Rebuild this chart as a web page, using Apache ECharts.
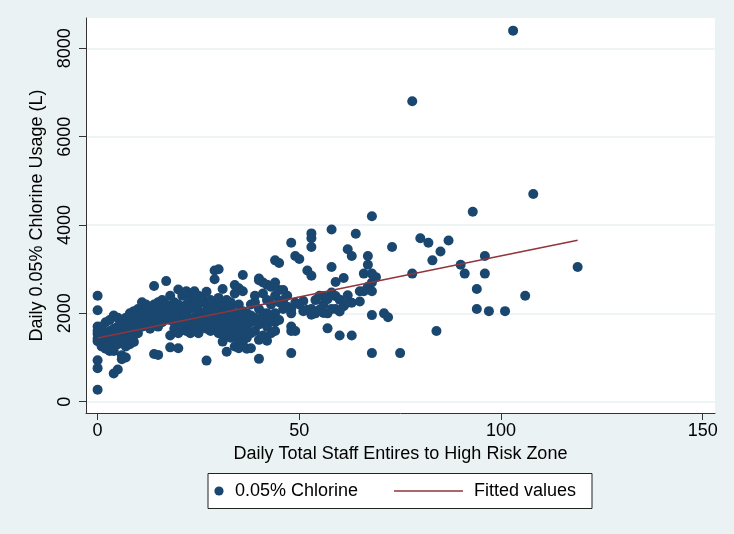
<!DOCTYPE html>
<html>
<head>
<meta charset="utf-8">
<script src="https://cdn.jsdelivr.net/npm/echarts@6/dist/echarts.min.js"></script>
<style>
html,body{margin:0;padding:0;background:#EAF2F3;}
#chart{width:734px;height:534px;}
</style>
</head>
<body>
<div id="chart"></div>
<script>
// Scatter points: [daily staff entries, daily 0.05% chlorine usage (L)]
const chlorinePoints = [
  [0,2400],[0,2070],[0,1700],[0,1540],[0,1430],[0,1370],[0,940],[0,760],[0,270],[0,1600],
  [1,1500],[1,1350],[1,1700],[1,1250],
  [2,1550],[2,1300],[2,1200],[2,1800],[2,1450],
  [3,1850],[3,1400],[3,1150],[3,1600],[3,1300],
  [4,1950],[4,1650],[4,1250],[4,1150],[4,640],[4,1500],
  [5,1700],[5,1900],[5,1400],[5,730],[5,1550],[5,1300],
  [6,1850],[6,1600],[6,1050],[6,960],[6,1350],[6,1750],
  [7,1750],[7,1500],[7,1000],[7,1250],[7,1900],[7,1400],
  [8,2000],[8,1600],[8,1300],[8,1450],[8,1800],
  [9,2050],[9,1700],[9,1500],[9,1900],[9,1350],
  [10,1950],[10,1550],[10,1800],[10,2100],[10,1650],
  [11,2250],[11,1900],[11,1700],[11,2000],
  [12,2200],[12,1850],[12,1950],[12,1750],[12,2100],
  [13,2000],[13,2150],[13,1650],[13,1900],[13,1800],
  [14,2620],[14,2050],[14,1950],[14,1080],[14,1850],[14,2200],
  [15,2250],[15,1060],[15,1700],[15,2100],[15,1900],
  [16,2000],[16,2300],[16,1800],[16,2150],
  [17,2730],[17,2200],[17,1900],[17,2050],
  [18,1500],[18,1230],[18,2100],[18,2400],[18,1850],
  [19,2000],[19,2250],[19,1650],[19,1800],
  [20,2540],[20,1210],[20,2200],[20,1950],[20,2050],[20,1550],
  [21,2400],[21,1800],[21,2100],[21,1700],
  [22,2500],[22,2200],[22,1900],[22,1600],[22,2000],
  [23,2450],[23,2300],[23,1750],[23,2100],[23,1550],
  [24,2500],[24,1900],[24,2150],[24,1650],[24,2350],
  [25,2200],[25,1800],[25,2050],[25,1550],[25,2400],
  [26,2350],[26,1700],[26,2000],[26,1900],
  [27,2490],[27,930],[27,2200],[27,1800],[27,1650],[27,2050],
  [28,2300],[28,1600],[28,1950],[28,2100],[28,1750],
  [29,2970],[29,2770],[29,2250],[29,1700],[29,1850],[29,2000],
  [30,3000],[30,2350],[30,1600],[30,1900],[30,2100],[30,1550],
  [31,2550],[31,1360],[31,2200],[31,1750],[31,1950],[31,1650],
  [32,2300],[32,1130],[32,1800],[32,2050],[32,1500],
  [33,2250],[33,1700],[33,1950],[33,1450],[33,1550],[33,2100],
  [34,2640],[34,2450],[34,1600],[34,1250],[34,1850],[34,2000],
  [35,2570],[35,1210],[35,1700],[35,1950],[35,1400],[35,2200],[35,1550],
  [36,2870],[36,2500],[36,1800],[36,1500],[36,1350],[36,2050],
  [37,2000],[37,1650],[37,1450],[37,1850],[37,1200],
  [38,1210],[38,1800],[38,2200],[38,1550],[38,1950],
  [39,2400],[39,1900],[39,1600],[39,2250],
  [40,2790],[40,2750],[40,970],[40,1750],[40,2100],[40,1400],
  [41,2700],[41,1500],[41,2450],[41,1850],[41,2000],
  [42,2650],[42,1380],[42,2000],[42,1700],[42,2300],
  [43,2600],[43,1850],[43,1550],[43,2200],
  [44,3200],[44,2700],[44,1800],[44,1600],[44,2000],[44,2400],
  [45,3140],[45,2530],[45,2250],[45,1850],
  [46,2530],[46,2300],[46,2100],
  [47,2400],[47,2150],
  [48,3600],[48,1100],[48,1700],[48,1600],[48,2000],[48,2100],
  [49,3300],[49,2240],[49,1600],
  [50,3230],[50,2200],
  [51,2280],[51,2050],
  [52,2970],[52,2080],
  [53,3810],[53,3700],[53,3500],[53,2850],[53,1970],[53,2100],
  [54,2000],[54,2300],
  [55,2080],[55,2400],
  [56,2390],[56,2200],[56,2010],
  [57,1660],[57,2320],[57,2000],
  [58,3900],[58,3050],[58,2470],[58,2100],
  [59,2710],[59,2100],[59,2390],
  [60,1500],[60,2040],[60,2310],
  [61,2800],[61,2160],
  [62,3450],[62,2410],[62,2240],
  [63,3300],[63,1500],[63,2240],
  [64,3800],
  [65,2500],[65,2270],
  [66,2900],[66,2500],
  [67,3300],[67,3100],[67,2600],
  [68,4200],[68,2900],[68,2700],[68,2500],[68,1960],[68,1100],
  [69,2820],
  [71,2000],[72,1910],[73,3500],[75,1100],
  [78,6800],[78,2900],
  [80,3700],[82,3600],[83,3200],[84,1600],[85,3400],[87,3650],
  [90,3100],[91,2900],[93,4300],
  [94,2550],[94,2100],
  [96,3300],[96,2900],
  [97,2050],[101,2050],[103,8400],[106,2400],[108,4700],[119,3050]
];

// Fitted regression line (end points)
const fittedX = [0, 119];
const fittedY = [1440, 3655];

const xTicks = [0, 50, 100, 150];
const yTicks = [0, 2000, 4000, 6000, 8000];

const seriesNames = ['0.05% Chlorine', 'Fitted values'];

const navy = '#1A476F';
const maroon = '#90353B';
const font = 'Liberation Sans, Arial, sans-serif';

const chart = echarts.init(document.getElementById('chart'), null, {renderer: 'canvas'});

chart.setOption({
  backgroundColor: '#EAF2F3',
  animation: false,
  grid: {
    left: 86, right: 19, top: 18, bottom: 121,
    show: true, backgroundColor: '#FFFFFF', borderWidth: 0
  },
  xAxis: {
    type: 'value',
    min: -2.876, max: 153.05,
    name: 'Daily Total Staff Entires to High Risk Zone',
    nameLocation: 'middle',
    nameGap: 28,
    nameTextStyle: {fontFamily: font, fontSize: 18, color: '#000'},
    axisLine: {show: true, onZero: false, lineStyle: {color: '#333', width: 1}},
    axisTick: {show: true, length: 7, customValues: xTicks, lineStyle: {color: '#333'}},
    axisLabel: {customValues: xTicks, margin: 9, fontFamily: font, fontSize: 18, color: '#000',
                formatter: v => String(v)},
    splitLine: {show: false}
  },
  yAxis: {
    type: 'value',
    min: -255.8, max: 8686,
    name: 'Daily 0.05% Chlorine Usage (L)',
    nameLocation: 'middle',
    nameRotate: 90,
    nameGap: 40,
    nameTextStyle: {fontFamily: font, fontSize: 18, color: '#000'},
    axisLine: {show: true, onZero: false, lineStyle: {color: '#333', width: 1}},
    axisTick: {show: true, length: 7, customValues: yTicks, lineStyle: {color: '#333'}},
    axisLabel: {customValues: yTicks, rotate: 90, margin: 12, fontFamily: font, fontSize: 18, color: '#000',
                formatter: v => String(v)},
    splitLine: {show: true, lineStyle: {color: '#EAF2F3', width: 1.5}}
  },
  series: [
    {
      name: seriesNames[0],
      type: 'scatter',
      data: chlorinePoints,
      symbol: 'circle',
      symbolSize: 10,
      itemStyle: {color: navy, opacity: 1},
      z: 2
    },
    {
      name: seriesNames[1],
      type: 'line',
      data: fittedX.map((x, i) => [x, fittedY[i]]),
      symbol: 'none',
      lineStyle: {color: maroon, width: 1.5},
      z: 3
    }
  ],
  graphic: [
    {type: 'rect', shape: {x: 208, y: 473.5, width: 384, height: 35},
     style: {fill: '#FFFFFF', stroke: '#222', lineWidth: 1}},
    {type: 'circle', shape: {cx: 219, cy: 491, r: 4.6}, style: {fill: navy}},
    {type: 'text', x: 235, y: 491, style: {text: seriesNames[0], fontFamily: font, fontSize: 18, fill: '#000', verticalAlign: 'middle'}},
    {type: 'line', shape: {x1: 394, y1: 491, x2: 463, y2: 491}, style: {stroke: maroon, lineWidth: 1.5}},
    {type: 'text', x: 474, y: 491, style: {text: seriesNames[1], fontFamily: font, fontSize: 18, fill: '#000', verticalAlign: 'middle'}}
  ]
});
</script>
</body>
</html>
